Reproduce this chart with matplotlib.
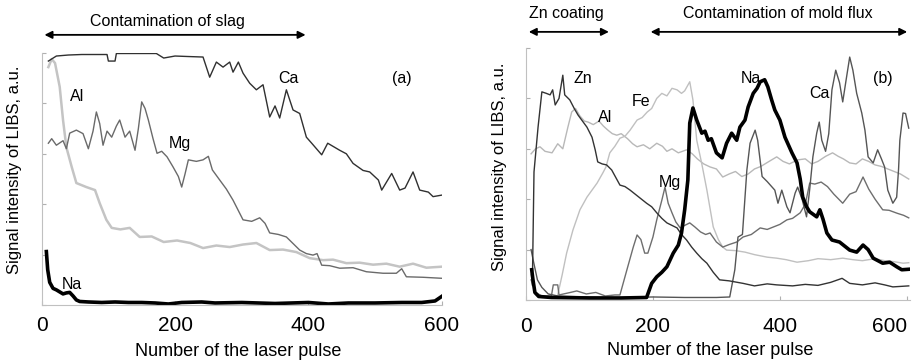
import matplotlib
matplotlib.use('Agg')
import matplotlib.pyplot as plt

plt.rcParams['font.family'] = ['Liberation Sans', 'DejaVu Sans']

# ---- panel (a): contamination of slag ----
ca_a_x = [10, 22, 40, 60, 80, 98, 100, 110, 112, 140, 172, 183, 200, 220, 242, 252,
          262, 272, 282, 287, 295, 302, 312, 322, 332, 342, 350, 357, 367, 377, 387,
          397, 405, 420, 429, 447, 457, 467, 482, 492, 505, 510, 525, 537, 545, 557,
          567, 580, 587, 600]
ca_a_y = [4.84, 4.94, 4.96, 4.97, 4.97, 4.97, 4.84, 4.84, 4.99, 4.99, 4.99, 4.90, 4.94,
          4.93, 4.92, 4.52, 4.82, 4.72, 4.82, 4.62, 4.82, 4.60, 4.40, 4.27, 4.37, 3.73,
          3.95, 3.71, 4.27, 3.87, 3.80, 3.33, 3.21, 2.98, 3.21, 3.07, 3.00, 2.81, 2.67,
          2.64, 2.48, 2.28, 2.61, 2.28, 2.32, 2.64, 2.28, 2.24, 2.15, 2.18]

al_a_x = [10, 15, 20, 27, 32, 37, 45, 52, 67, 80, 87, 97, 105, 118, 132, 147, 165,
          183, 203, 223, 242, 262, 282, 302, 322, 342, 362, 382, 402, 422, 437, 457,
          477, 497, 517, 537, 557, 577, 600]
al_a_y = [4.72, 4.88, 4.80, 4.33, 3.67, 3.13, 2.74, 2.42, 2.34, 2.28, 2.02, 1.69, 1.53,
          1.50, 1.53, 1.35, 1.36, 1.25, 1.28, 1.23, 1.13, 1.18, 1.15, 1.20, 1.23, 1.09,
          1.10, 1.05, 0.93, 0.89, 0.90, 0.83, 0.84, 0.80, 0.82, 0.76, 0.82, 0.74, 0.76]

mg_a_x = [10, 15, 22, 32, 37, 42, 52, 62, 70, 77, 82, 87, 92, 98, 105, 112, 117, 125,
          132, 140, 145, 150, 155, 160, 167, 173, 180, 188, 197, 205, 210, 215, 220,
          232, 242, 250, 256, 267, 277, 287, 302, 315, 327, 335, 342, 355, 367, 377,
          387, 397, 407, 413, 420, 432, 447, 467, 487, 512, 532, 540, 547, 572, 600]
mg_a_y = [3.21, 3.30, 3.17, 3.26, 3.10, 3.41, 3.47, 3.40, 3.10, 3.45, 3.83, 3.60, 3.17,
          3.45, 3.33, 3.55, 3.67, 3.33, 3.45, 3.07, 3.50, 4.03, 3.90, 3.67, 3.30, 3.01,
          3.05, 2.94, 2.74, 2.55, 2.34, 2.60, 2.88, 2.85, 2.88, 2.95, 2.68, 2.48, 2.30,
          2.08, 1.69, 1.66, 1.73, 1.62, 1.43, 1.40, 1.35, 1.22, 1.09, 1.02, 0.99, 1.02,
          0.79, 0.78, 0.73, 0.74, 0.66, 0.63, 0.63, 0.72, 0.56, 0.55, 0.53]

na_a_x = [7, 9, 12, 17, 22, 27, 32, 37, 42, 47, 52, 57, 70, 90, 110, 130, 150, 170,
          190, 210, 240, 260, 300, 350, 400, 430, 460, 500, 540, 570, 590, 600]
na_a_y = [1.06, 0.70, 0.45, 0.33, 0.30, 0.26, 0.22, 0.24, 0.25, 0.18, 0.10, 0.07, 0.06,
          0.05, 0.06, 0.05, 0.05, 0.04, 0.02, 0.05, 0.06, 0.04, 0.05, 0.03, 0.05, 0.02,
          0.04, 0.04, 0.05, 0.05, 0.08, 0.17]

# ---- panel (b): Zn coating / mold flux ----
zn_b_x = [10, 12.6, 19, 25, 32, 38, 42, 46, 52, 58, 61, 69, 76, 82, 89, 96, 104, 109,
          113, 120, 127, 135, 148, 156, 164, 172, 180, 190, 198, 206, 214, 222, 230,
          238, 245, 253, 261, 269, 277, 285, 295, 305, 320, 342, 360, 380, 395, 420,
          440, 460, 480, 498, 510, 530, 550, 565, 578, 603]
zn_b_y = [0.30, 2.54, 3.43, 4.13, 4.10, 4.07, 4.17, 3.87, 4.00, 4.46, 4.07, 3.97, 3.80,
          3.67, 3.55, 3.43, 3.23, 2.98, 2.74, 2.70, 2.68, 2.58, 2.28, 2.25, 2.18, 2.10,
          2.02, 1.92, 1.85, 1.73, 1.62, 1.53, 1.48, 1.43, 1.30, 1.19, 1.05, 0.93, 0.82,
          0.73, 0.55, 0.40, 0.38, 0.33, 0.28, 0.32, 0.30, 0.28, 0.31, 0.29, 0.35, 0.43,
          0.33, 0.30, 0.34, 0.30, 0.26, 0.28]

al_b_x = [8, 15, 22, 30, 41, 50, 58, 66, 72, 78, 85, 92, 98, 106, 115, 122, 129, 136,
          143, 150, 160, 168, 175, 185, 195, 206, 215, 222, 230, 240, 253, 262, 270,
          280, 290, 300, 310, 320, 330, 340, 350, 360, 370, 383, 395, 405, 415, 428,
          440, 450, 460, 472, 483, 492, 500, 510, 520, 530, 540, 550, 560, 570, 580,
          590, 603]
al_b_y = [2.90, 3.00, 3.04, 2.95, 2.92, 3.10, 3.00, 3.43, 3.73, 3.80, 3.65, 3.55, 3.53,
          3.48, 3.55, 3.45, 3.37, 3.30, 3.27, 3.30, 3.20, 3.10, 3.04, 3.08, 3.00, 3.11,
          3.05, 2.95, 3.00, 2.92, 2.98, 2.90, 2.80, 2.70, 2.64, 2.60, 2.44, 2.50, 2.55,
          2.45, 2.50, 2.60, 2.65, 2.75, 2.84, 2.75, 2.70, 2.78, 2.80, 2.70, 2.75, 2.85,
          2.92, 2.85, 2.80, 2.72, 2.70, 2.80, 2.75, 2.68, 2.65, 2.60, 2.55, 2.50, 2.40]

fe_b_x = [8, 15, 25, 48, 50, 57, 64, 74, 85, 96, 112, 121, 126, 132, 140, 148, 156,
          164, 175, 183, 191, 198, 206, 214, 222, 230, 238, 245, 250, 258, 263, 269,
          277, 285, 295, 303, 310, 316, 330, 345, 360, 380, 395, 410, 427, 445, 460,
          480, 499, 515, 530, 550, 565, 580, 594, 603]
fe_b_y = [0.50, 0.15, 0.05, 0.05, 0.10, 0.50, 0.93, 1.39, 1.79, 2.04, 2.32, 2.52, 2.64,
          2.92, 3.05, 3.21, 3.25, 3.37, 3.57, 3.62, 3.73, 3.80, 4.00, 4.10, 4.05, 4.20,
          4.17, 4.10, 4.15, 4.33, 3.97, 3.17, 2.70, 2.18, 1.45, 1.20, 1.05, 0.99, 0.98,
          0.95, 0.90, 0.85, 0.83, 0.80, 0.75, 0.78, 0.82, 0.80, 0.83, 0.80, 0.78, 0.82,
          0.78, 0.76, 0.73, 0.74]

mg_b_x = [8, 15, 25, 40, 43, 50, 52, 70, 80, 95, 110, 125, 140, 148, 159, 169, 175,
          181, 187, 192, 200, 206, 214, 219, 224, 230, 236, 243, 250, 258, 266, 275,
          283, 290, 300, 310, 320, 332, 342, 355, 369, 380, 390, 400, 411, 420, 432,
          440, 447, 455, 465, 475, 485, 499, 510, 520, 531, 540, 550, 562, 572, 585,
          595, 603]
mg_b_y = [0.40, 0.15, 0.08, 0.08, 0.30, 0.30, 0.10, 0.15, 0.18, 0.12, 0.15, 0.08, 0.10,
          0.10, 0.60, 1.05, 1.29, 1.20, 0.93, 0.93, 1.25, 1.59, 1.98, 2.24, 1.92, 1.73,
          1.55, 1.43, 1.48, 1.53, 1.45, 1.35, 1.30, 1.33, 1.15, 1.05, 1.10, 1.15, 1.25,
          1.30, 1.43, 1.40, 1.45, 1.50, 1.59, 1.62, 1.73, 1.90, 2.32, 2.30, 2.34, 2.25,
          2.10, 1.92, 2.10, 2.15, 2.44, 2.20, 2.00, 1.79, 1.78, 1.72, 1.68, 1.63]

ca_b_x = [8, 12, 18, 25, 35, 50, 100, 150, 200, 250, 300, 321, 329, 334, 341, 348, 353,
          361, 365, 372, 380, 392, 397, 403, 411, 416, 424, 428, 435, 442, 447, 452,
          458, 462, 466, 472, 477, 482, 488, 494, 499, 505, 510, 515, 521, 529, 534,
          539, 547, 554, 560, 565, 570, 578, 584, 587, 589, 594, 598, 603]
ca_b_y = [1.00, 0.75, 0.40, 0.25, 0.12, 0.08, 0.06, 0.05, 0.06, 0.05, 0.05, 0.06, 0.60,
          1.25, 1.30, 2.58, 3.11, 3.37, 3.17, 2.45, 2.35, 2.18, 1.92, 2.18, 1.85, 1.73,
          2.12, 2.24, 2.00, 1.65, 2.20, 2.84, 3.31, 3.53, 3.17, 2.95, 3.30, 4.17, 4.56,
          4.31, 3.93, 4.42, 4.82, 4.56, 4.10, 3.71, 3.37, 2.84, 2.72, 2.98, 2.80, 2.64,
          2.18, 1.92, 2.04, 2.60, 3.17, 3.71, 3.70, 3.41]

na_b_x = [9, 11, 14, 20, 40, 100, 150, 190, 198, 206, 214, 222, 232, 240, 245, 250, 255,
          258, 263, 269, 277, 282, 287, 292, 300, 309, 316, 324, 332, 337, 345, 350,
          358, 364, 369, 376, 381, 387, 392, 400, 408, 419, 427, 432, 436, 442, 447,
          458, 463, 468, 474, 482, 494, 510, 521, 531, 539, 547, 562, 573, 584, 592, 603]
na_b_y = [0.60, 0.40, 0.15, 0.07, 0.05, 0.04, 0.04, 0.05, 0.33, 0.46, 0.55, 0.66, 0.93,
          1.09, 1.33, 1.79, 2.38, 3.51, 3.81, 3.57, 3.31, 3.35, 3.17, 3.20, 2.92, 2.82,
          3.11, 3.31, 3.17, 3.43, 3.57, 3.83, 4.10, 4.20, 4.33, 4.37, 4.23, 3.97, 3.77,
          3.57, 3.23, 2.92, 2.72, 2.40, 2.04, 1.85, 1.75, 1.65, 1.79, 1.60, 1.33, 1.19,
          1.15, 0.99, 0.95, 1.09, 1.00, 0.83, 0.73, 0.75, 0.66, 0.60, 0.61]

x_ticks = [0, 200, 400, 600]
y_ticks = [0, 1, 2, 3, 4, 5]

fig = plt.figure(figsize=(9.18, 3.63), dpi=100)
ax1 = fig.add_axes([41.7 / 918, 58 / 363, 400 / 918, 252 / 363])
ax2 = fig.add_axes([526 / 918, 63 / 363, 384 / 918, 252 / 363])

ax1.plot(al_a_x, al_a_y, color='#c4c4c4', lw=1.8)
ax1.plot(mg_a_x, mg_a_y, color='#6a6a6a', lw=1.0)
ax1.plot(ca_a_x, ca_a_y, color='#303030', lw=1.0)
ax1.plot(na_a_x, na_a_y, color='black', lw=2.6)

ax2.plot(al_b_x, al_b_y, color='#b8b8b8', lw=1.0)
ax2.plot(fe_b_x, fe_b_y, color='#c0c0c0', lw=1.0)
ax2.plot(mg_b_x, mg_b_y, color='#6e6e6e', lw=1.0)
ax2.plot(ca_b_x, ca_b_y, color='#555555', lw=1.0)
ax2.plot(zn_b_x, zn_b_y, color='#333333', lw=1.0)
ax2.plot(na_b_x, na_b_y, color='black', lw=2.6)

tick_font = ['Liberation Sans Narrow', 'Liberation Sans', 'DejaVu Sans']
for ax, xmax, pad in [(ax1, 600, 8), (ax2, 605, 12)]:
    ax.set_xlim(0, xmax)
    ax.set_ylim(0, 5)
    ax.set_xticks(x_ticks)
    ax.set_xticklabels([str(t) for t in x_ticks], family=tick_font, fontsize=15)
    ax.set_yticks(y_ticks)
    ax.set_yticklabels([])
    ax.tick_params(axis='both', direction='in', length=3, color='#b0b0b0', pad=pad)
    ax.spines['top'].set_visible(False)
    ax.spines['right'].set_visible(False)
    ax.spines['left'].set_color('#c0c0c0')
    ax.spines['bottom'].set_color('#c0c0c0')
    ax.set_xlabel('Number of the laser pulse', fontsize=13)
    ax.set_ylabel('Signal intensity of LIBS, a.u.', fontsize=12)

# last tick label of (b) sits against the right edge
ax2.get_xticklabels()[-1].set_horizontalalignment('right')

ax1.xaxis.set_label_coords(0.49, -0.152)
ax2.xaxis.set_label_coords(0.48, -0.165)
ax1.yaxis.set_label_coords(-0.049, 0.535)
ax2.yaxis.set_label_coords(-0.05, 0.53)

arrow = dict(arrowstyle='<|-|>', color='black', lw=1.3, mutation_scale=11)
ax1.annotate('', xy=(400, 5.36), xytext=(0, 5.36), arrowprops=arrow,
             annotation_clip=False)
ax1.text(188, 5.62, 'Contamination of slag', ha='center', va='center', fontsize=11.5)
ax2.annotate('', xy=(135, 5.32), xytext=(0, 5.32), arrowprops=arrow,
             annotation_clip=False)
ax2.annotate('', xy=(605, 5.32), xytext=(192, 5.32), arrowprops=arrow,
             annotation_clip=False)
ax2.text(63, 5.69, 'Zn coating', ha='center', va='center', fontsize=11.5)
ax2.text(397, 5.69, 'Contamination of mold flux', ha='center', va='center',
         fontsize=11.5)

lab = dict(ha='center', va='center', fontsize=11.5)
ax1.text(370, 4.5, 'Ca', **lab)
ax1.text(53, 4.13, 'Al', **lab)
ax1.text(208, 3.21, 'Mg', **lab)
ax1.text(45, 0.4, 'Na', **lab)
ax1.text(540, 4.5, '(a)', **lab)

ax2.text(90, 4.4, 'Zn', **lab)
ax2.text(124, 3.63, 'Al', **lab)
ax2.text(181, 3.93, 'Fe', **lab)
ax2.text(227, 2.34, 'Mg', **lab)
ax2.text(354, 4.4, 'Na', **lab)
ax2.text(463, 4.1, 'Ca', **lab)
ax2.text(562, 4.4, '(b)', **lab)

fig.savefig('out.png', dpi=100)
